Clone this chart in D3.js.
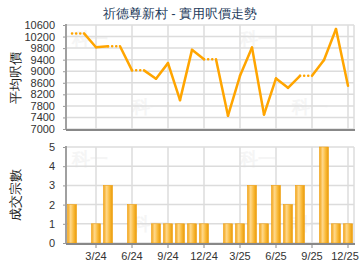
<!DOCTYPE html>
<html>
<head>
<meta charset="utf-8">
<script src="https://cdn.jsdelivr.net/npm/d3@7"></script>
<style>
  body { margin: 0; background: #fff; }
  svg text { font-family: "Liberation Sans", Arial, sans-serif; }
</style>
</head>
<body>
<svg id="chart" width="360" height="270"></svg>
<script>
// months shown on the x axis, Jan 2024 .. Dec 2025
var months = ["1/24","2/24","3/24","4/24","5/24","6/24","7/24","8/24","9/24","10/24","11/24","12/24",
              "1/25","2/25","3/25","4/25","5/25","6/25","7/25","8/25","9/25","10/25","11/25","12/25"];
var tickMonths = ["3/24","6/24","9/24","12/24","3/25","6/25","9/25","12/25"];
// average price per sq ft, null = no deal that month
var prices = [10310, null, 9830, 9865, null, 9030, null, 8740, 9280, 8000, 9740, 9415,
              null, 7460, 8840, 9820, 7500, 8750, 8425, 8840, null, 9390, 10460, 8500];
// number of deals
var counts = [2, 0, 1, 3, 0, 2, 0, 1, 1, 1, 1, 1, 0, 1, 1, 3, 1, 3, 2, 3, 0, 5, 1, 1];
var priceTicks = [7000, 7400, 7800, 8200, 8600, 9000, 9400, 9800, 10200, 10600];
var countTicks = [0, 1, 2, 3, 4, 5];

var svg = d3.select("#chart");
var left = 66, right = 354;

var x = d3.scaleBand().domain(months).range([left, right]);
var cx = function (m) { return x(m) + x.bandwidth() / 2; };

var yP = d3.scaleLinear().domain([7000, 10600]).range([129, 25]);
var yC = d3.scaleLinear().domain([0, 5]).range([243, 147]);

// gradient for the bars
var defs = svg.append("defs");
var grad = defs.append("linearGradient").attr("id", "barGrad")
    .attr("x1", "0%").attr("x2", "100%").attr("y1", "0%").attr("y2", "0%");
grad.append("stop").attr("offset", "0%").attr("stop-color", "#f2a51c");
grad.append("stop").attr("offset", "35%").attr("stop-color", "#ffd88a");
grad.append("stop").attr("offset", "70%").attr("stop-color", "#f9b834");
grad.append("stop").attr("offset", "100%").attr("stop-color", "#e89a0c");

// title
svg.append("text").attr("x", 180).attr("y", 18).attr("text-anchor", "middle")
    .attr("font-size", 13).attr("fill", "#1d3b5c").text("祈德尊新村 - 實用呎價走勢");

// watermarks
[[90, 45], [150, 113], [258, 45], [310, 113], [90, 165], [150, 230], [258, 165], [310, 230]].forEach(function (p) {
    svg.append("text").attr("x", p[0]).attr("y", p[1]).attr("text-anchor", "middle")
        .attr("font-size", 18).attr("font-weight", "bold").attr("fill", "#f5f5f5")
        .attr("font-family", "Noto Sans CJK TC").text("科一");
});

function grid(y, ticks, top, bottom) {
    var g = svg.append("g");
    g.selectAll("line.h").data(ticks).enter().append("line")
        .attr("x1", left).attr("x2", right)
        .attr("y1", function (d) { return y(d); }).attr("y2", function (d) { return y(d); })
        .attr("stroke", "#dcdcdc").attr("stroke-width", 1.5);
    g.selectAll("line.v").data(tickMonths).enter().append("line")
        .attr("x1", cx).attr("x2", cx).attr("y1", top).attr("y2", bottom)
        .attr("stroke", "#dcdcdc").attr("stroke-width", 1.5);
    g.append("line").attr("x1", right).attr("x2", right).attr("y1", top).attr("y2", bottom)
        .attr("stroke", "#dcdcdc").attr("stroke-width", 1.5);
}
grid(yP, priceTicks, 25, 130);
grid(yC, countTicks, 147, 243);

// y axes
function yAxis(y, ticks, top, bottom) {
    var g = svg.append("g").attr("transform", "translate(" + left + ",0)")
        .call(d3.axisLeft(y).tickValues(ticks).tickSize(3).tickPadding(8).tickFormat(d3.format("d")));
    g.select(".domain").remove();
    g.selectAll(".tick line").attr("stroke", "#999");
    g.selectAll(".tick text").attr("font-size", 11).attr("fill", "#333")
        .style("font-family", "'Liberation Sans', Arial, sans-serif");
    svg.append("line").attr("x1", left).attr("x2", left).attr("y1", top).attr("y2", bottom)
        .attr("stroke", "#a0a0a0").attr("stroke-width", 2);
}
yAxis(yP, priceTicks, 24, 130);
yAxis(yC, countTicks, 146, 244);

// top chart bottom line
svg.append("line").attr("x1", left).attr("x2", right + 1).attr("y1", 130).attr("y2", 130)
    .attr("stroke", "#888").attr("stroke-width", 2);

// bars
svg.selectAll("rect.bar").data(counts.map(function (c, i) { return { m: months[i], c: c }; })
        .filter(function (d) { return d.c > 0; }))
    .enter().append("rect").attr("class", "bar")
    .attr("x", function (d) { return cx(d.m) - 4.5; })
    .attr("width", 9)
    .attr("y", function (d) { return yC(d.c); })
    .attr("height", function (d) { return yC(0) - yC(d.c); })
    .attr("fill", "url(#barGrad)")
    .attr("stroke", "#f0a010").attr("stroke-width", 0.6);

// x axis of the bottom chart
var xa = svg.append("g").attr("transform", "translate(0,244)")
    .call(d3.axisBottom(x).tickValues(tickMonths).tickSize(4).tickPadding(4));
xa.select(".domain").attr("stroke", "#888").attr("stroke-width", 2).attr("d", "M" + left + ",0H" + (right + 1));
xa.selectAll(".tick line").attr("stroke", "#888");
xa.selectAll(".tick text").attr("font-size", 11).attr("fill", "#333")
    .style("font-family", "'Liberation Sans', Arial, sans-serif")
    .attr("dx", function (d) { return d === "12/25" ? -3 : 0; });

// price line: missing months carry the previous value as a dotted segment
var pts = [];
var last = null;
prices.forEach(function (p, i) {
    if (p !== null) { pts.push({ m: months[i], v: p, carried: false }); last = p; }
    else { pts.push({ m: months[i], v: last, carried: true }); }
});
for (var i = 1; i < pts.length; i++) {
    var a = pts[i - 1], b = pts[i];
    svg.append("line")
        .attr("x1", cx(a.m)).attr("y1", yP(a.v))
        .attr("x2", cx(b.m)).attr("y2", yP(b.v))
        .attr("stroke", "#ffa500").attr("stroke-width", 2.5)
        .attr("stroke-linecap", "round")
        .attr("stroke-dasharray", b.carried ? "0.1,4" : null);
}

// axis titles
svg.append("text").attr("transform", "translate(20,78) rotate(-90)").attr("text-anchor", "middle")
    .attr("font-size", 13).attr("fill", "#222").attr("font-family", "Noto Sans CJK TC").text("平均呎價");
svg.append("text").attr("transform", "translate(20,195) rotate(-90)").attr("text-anchor", "middle")
    .attr("font-size", 13).attr("fill", "#222").attr("font-family", "Noto Sans CJK TC").text("成交宗數");
</script>
</body>
</html>
